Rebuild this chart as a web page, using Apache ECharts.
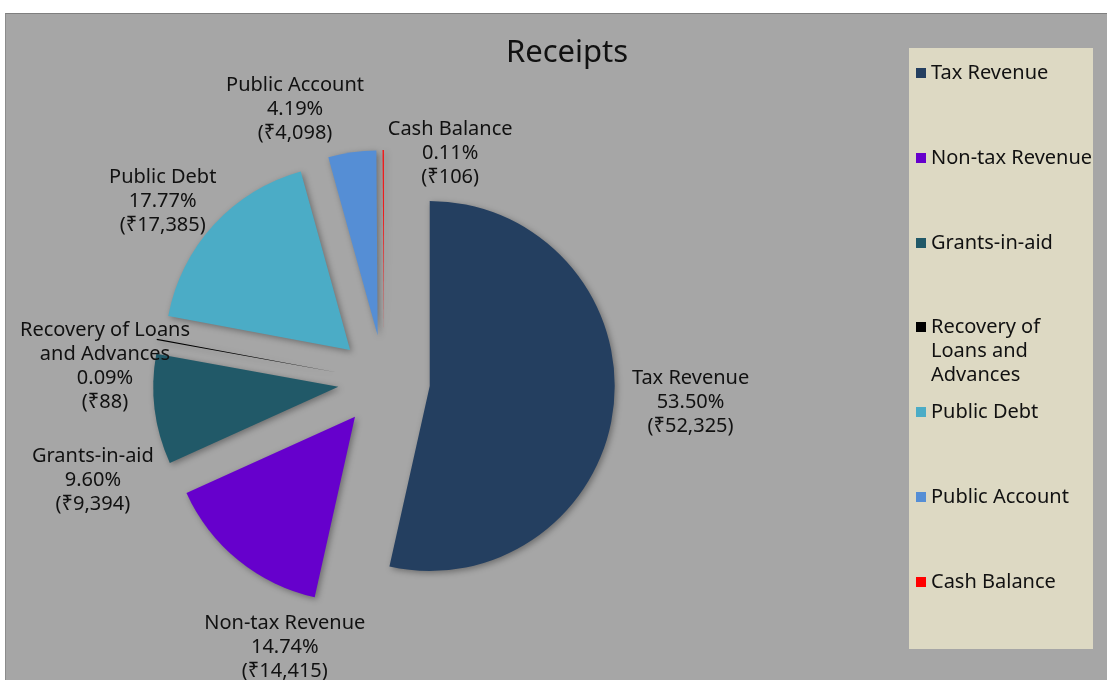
<!DOCTYPE html>
<html>
<head>
<meta charset="utf-8">
<title>Receipts</title>
<script src="https://cdn.jsdelivr.net/npm/echarts@6/dist/echarts.min.js"></script>
<style>
  html, body { margin: 0; padding: 0; background: #fff; }
  #chart {
    position: absolute; left: 5px; top: 13px; width: 1102px; height: 667px;
    background: #a6a6a6; border-top: 1px solid #7f7f7f; border-left: 1px solid #8c8c8c;
    box-sizing: border-box;
  }
</style>
</head>
<body>
<div id="chart"></div>
<script>
// receipts, in crore rupees
var categories = ['Tax Revenue', 'Non-tax Revenue', 'Grants-in-aid', 'Recovery of Loans and Advances',
  'Public Debt', 'Public Account', 'Cash Balance'];
var amounts = [52325, 14415, 9394, 88, 17385, 4098, 106];

var sliceColors = ['#243f60', '#6600cc', '#215968', '#000000', '#4bacc6', '#558ed5', '#ff0000'];
// nudges for the data labels, [dx, dy] from the default outside spot
var labelShift = [[57, -6], [61, 75], [-42, 69], [-32, 30], [-35, -13], [-50, -28], [72, 18]];

function withCommas(n) {
  return String(n).replace(/\B(?=(\d{3})+(?!\d))/g, ',');
}

var chart = echarts.init(document.getElementById('chart'));
var font = 'Noto Sans';
var legendText = { fontFamily: font, fontSize: 20, lineHeight: 24, color: '#111' };

// three legend blocks so the wrapped item keeps its icon on the first line
var legendGroups = [
  { data: categories.slice(0, 3), top: 47 },
  { data: categories.slice(3, 4), top: 253 },
  { data: categories.slice(4), top: 386 }
];

chart.setOption({
  animation: false,
  title: {
    text: 'Receipts',
    left: 556,
    top: 19,
    textAlign: 'center',
    textStyle: { fontFamily: font, fontSize: 31, fontWeight: 'normal', color: '#111' }
  },
  graphic: [{
    type: 'rect',
    z: -1,
    shape: { x: 903, y: 34, width: 184, height: 601 },
    style: { fill: '#ddd9c3' }
  }],
  legend: legendGroups.map(function (g) {
    return {
      data: g.data,
      orient: 'vertical',
      left: 910,
      top: g.top,
      padding: 0,
      itemGap: 61,
      itemWidth: 10,
      itemHeight: 10,
      icon: 'rect',
      selectedMode: false,
      itemStyle: { shadowBlur: 0, shadowOffsetX: 0, shadowOffsetY: 0 },
      formatter: function (name) {
        if (name.indexOf('Loans') < 0) return name;
        // two blank lines on top put the icon level with the first text line
        return '\n\n' + name.replace('of Loans', 'of\nLoans').replace('and Advances', 'and\nAdvances');
      },
      textStyle: legendText
    };
  }),
  series: [{
    type: 'pie',
    center: [378, 367],
    radius: 185,
    startAngle: 90,
    selectedMode: 'multiple',
    selectedOffset: 46,
    avoidLabelOverlap: false,
    percentPrecision: 2,
    itemStyle: {
      shadowBlur: 6,
      shadowOffsetX: 2,
      shadowOffsetY: 2,
      shadowColor: 'rgba(0,0,0,0.35)'
    },
    label: {
      position: 'outside',
      alignTo: 'none',
      fontFamily: font,
      fontSize: 20,
      lineHeight: 24,
      color: '#111',
      formatter: function (p) {
        return p.name.replace('Loans and', 'Loans\nand') + '\n' + p.percent.toFixed(2) + '%\n(₹' + withCommas(p.value) + ')';
      }
    },
    labelLine: { show: false, length: 15, length2: 0 },
    labelLayout: function (p) {
      var s = labelShift[p.dataIndex];
      return { align: 'center', verticalAlign: 'middle', dx: s[0], dy: s[1] };
    },
    emphasis: { disabled: true },
    data: categories.map(function (name, i) {
      return { name: name, value: amounts[i], selected: true, itemStyle: { color: sliceColors[i] } };
    })
  }]
});
</script>
</body>
</html>
